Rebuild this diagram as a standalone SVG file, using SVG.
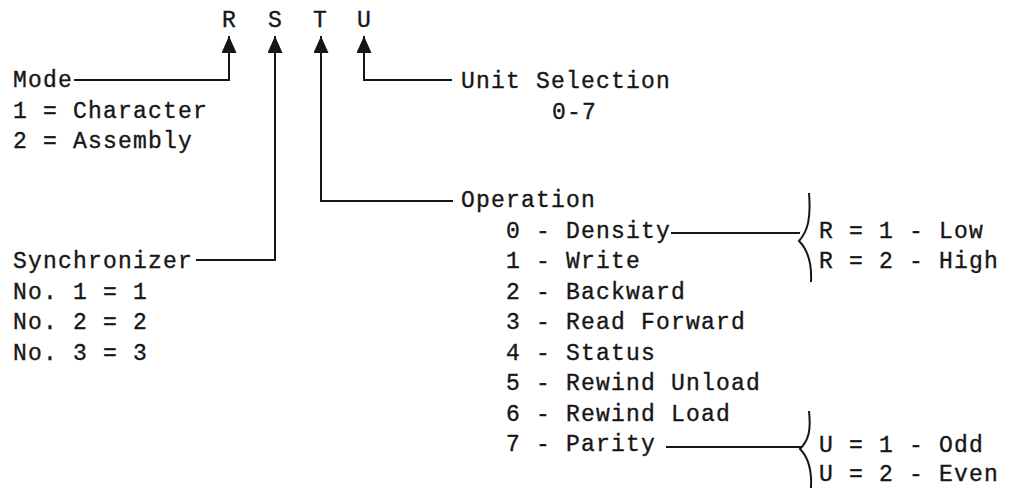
<svg xmlns="http://www.w3.org/2000/svg" width="1012" height="489" viewBox="0 0 1012 489">
<style>
text{font-family:"Liberation Mono","DejaVu Sans Mono",monospace;font-size:23px;letter-spacing:1.2px;fill:#161616;stroke:#161616;stroke-width:0.35}
.c{text-anchor:middle;letter-spacing:0}
.ln{fill:none;stroke:#161616;stroke-width:2}
</style>
<defs>
<marker id="arr" viewBox="0 0 17 15" refX="17" refY="7.5" markerWidth="17" markerHeight="15" markerUnits="userSpaceOnUse" orient="auto">
<path d="M0,0 L17,7.5 L0,15 Z" fill="#161616"/>
</marker>
</defs>
<rect width="1012" height="489" fill="#fff"/>
<g id="fields">
<text class="c" x="229" y="27">R</text>
<text class="c" x="275" y="27">S</text>
<text class="c" x="320" y="27">T</text>
<text class="c" x="364" y="27">U</text>
</g>
<g id="mode">
<text x="13" y="87">Mode</text>
<text x="13" y="117.5">1 = Character</text>
<text x="13" y="148">2 = Assembly</text>
</g>
<g id="synchronizer">
<text x="13" y="268">Synchronizer</text>
<text x="13" y="298.5">No. 1 = 1</text>
<text x="13" y="329">No. 2 = 2</text>
<text x="13" y="359.5">No. 3 = 3</text>
</g>
<g id="unit">
<text x="461" y="88">Unit Selection</text>
<text x="552" y="118.5">0-7</text>
</g>
<g id="operation">
<text x="461" y="207">Operation</text>
<text x="506" y="237.5">0 - Density</text>
<text x="506" y="268">1 - Write</text>
<text x="506" y="298.5">2 - Backward</text>
<text x="506" y="329">3 - Read Forward</text>
<text x="506" y="359.5">4 - Status</text>
<text x="506" y="390">5 - Rewind Unload</text>
<text x="506" y="420.5">6 - Rewind Load</text>
<text x="506" y="451">7 - Parity</text>
</g>
<g id="density">
<text x="819" y="238">R = 1 - Low</text>
<text x="819" y="268">R = 2 - High</text>
</g>
<g id="parity">
<text x="819" y="452">U = 1 - Odd</text>
<text x="819" y="481">U = 2 - Even</text>
</g>
<g id="connectors">
<path class="ln" d="M74,80 H229 V36" marker-end="url(#arr)"/>
<path class="ln" d="M196,260 H275 V36" marker-end="url(#arr)"/>
<path class="ln" d="M453,201 H321 V36" marker-end="url(#arr)"/>
<path class="ln" d="M452,80 H364 V36" marker-end="url(#arr)"/>
<path class="ln" d="M671,233 H800"/>
<path class="ln" d="M809,193 C811,218 808,231 799,241 C808,250 812,262 811,282"/>
<path class="ln" d="M666,447 H801"/>
<path class="ln" d="M809,411 C811,430 809,440 800,449 C809,458 812,470 811,488"/>
</g>
</svg>
